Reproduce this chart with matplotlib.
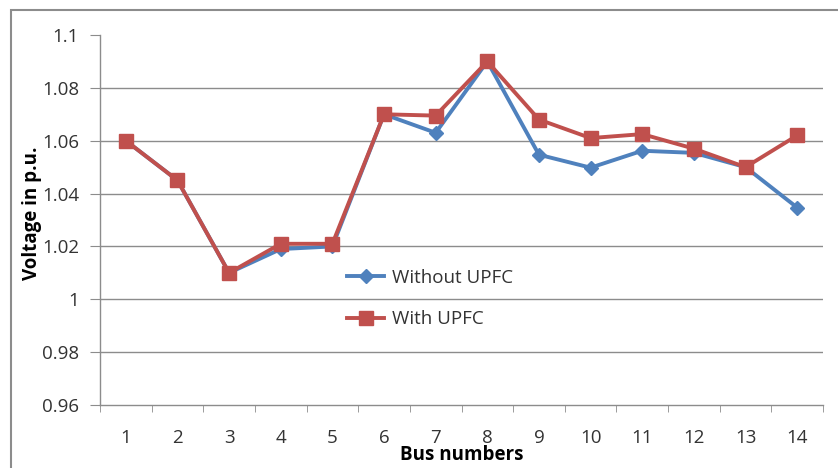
import matplotlib
matplotlib.use("Agg")
import matplotlib.pyplot as plt
from matplotlib.patches import Rectangle

buses = [str(i) for i in range(1, 15)]
without_upfc = [1.060, 1.045, 1.010, 1.019, 1.020, 1.070, 1.063, 1.090, 1.0547, 1.0498, 1.0562, 1.0554, 1.050, 1.0347]
with_upfc = [1.060, 1.045, 1.010, 1.021, 1.021, 1.070, 1.0695, 1.090, 1.068, 1.061, 1.0625, 1.057, 1.050, 1.062]
yticks = [0.96, 0.98, 1.0, 1.02, 1.04, 1.06, 1.08, 1.1]
ytick_labels = ["0.96", "0.98", "1", "1.02", "1.04", "1.06", "1.08", "1.1"]

W, H = 838, 468
fig = plt.figure(figsize=(W / 100, H / 100), dpi=100)
fig.patch.set_facecolor("white")

# outer frame
fig.patches.append(Rectangle((11 / W, -0.05), 1.0, 1 - 10 / H + 0.05, transform=fig.transFigure,
                             fill=False, edgecolor="#8c8c8c", linewidth=1.5))

ax = fig.add_axes([100 / W, 1 - 405 / H, (823 - 100) / W, (405 - 35) / H])
x = list(range(len(buses)))
ax.plot(x, without_upfc, color="#4F81BD", linewidth=2.8, marker="D", markersize=7.5,
        label="Without UPFC", zorder=3)
ax.plot(x, with_upfc, color="#C0504D", linewidth=2.8, marker="s", markersize=10.5,
        label="With UPFC", zorder=4)

ax.set_xlim(-0.5, len(buses) - 0.5)
ax.set_ylim(0.96, 1.1)
ax.set_yticks(yticks)
ax.set_yticklabels(ytick_labels)
ax.set_xticks(x)
ax.set_xticklabels(buses)
ax.set_xticks([i - 0.5 for i in range(len(buses) + 1)], minor=True)

for yv in yticks[1:-1]:
    ax.axhline(yv, color="#8c8c8c", linewidth=1.0, zorder=1)

for s in ["top", "right"]:
    ax.spines[s].set_visible(False)
ax.spines["left"].set_color("#8c8c8c")
ax.spines["bottom"].set_color("#8c8c8c")
ax.spines["left"].set_linewidth(1.0)
ax.spines["bottom"].set_linewidth(1.0)

fam = ["Open Sans", "DejaVu Sans"]
fs = 13.5
ax.tick_params(axis="x", which="major", length=0, pad=17, labelsize=fs, labelcolor="#333333")
ax.tick_params(axis="x", which="minor", length=5, color="#8c8c8c", direction="out")
ax.tick_params(axis="y", length=7, color="#8c8c8c", pad=8, labelsize=fs, labelcolor="#333333")
for lab in ax.get_xticklabels() + ax.get_yticklabels():
    lab.set_family(fam)

ax.set_xlabel("Bus numbers", fontsize=fs, fontweight="bold", family=fam, labelpad=0)
ax.xaxis.set_label_coords((462 - 100) / (823 - 100), -(445 - 405) / (405 - 35))
ax.set_ylabel("Voltage in p.u.", fontsize=fs, fontweight="bold", family=fam)
ax.yaxis.set_label_coords(-(100 - 42) / (823 - 100), (405 - 213) / (405 - 35))

leg = ax.legend(loc="upper left", bbox_to_anchor=((330 - 100) / (823 - 100), (405 - 252) / (405 - 35)),
                frameon=False, handlelength=2.0, labelspacing=1.25, handletextpad=0.4,
                prop={"family": fam, "size": fs})
for t in leg.get_texts():
    t.set_color("#333333")

fig.savefig("out.png", dpi=100, facecolor="white")
